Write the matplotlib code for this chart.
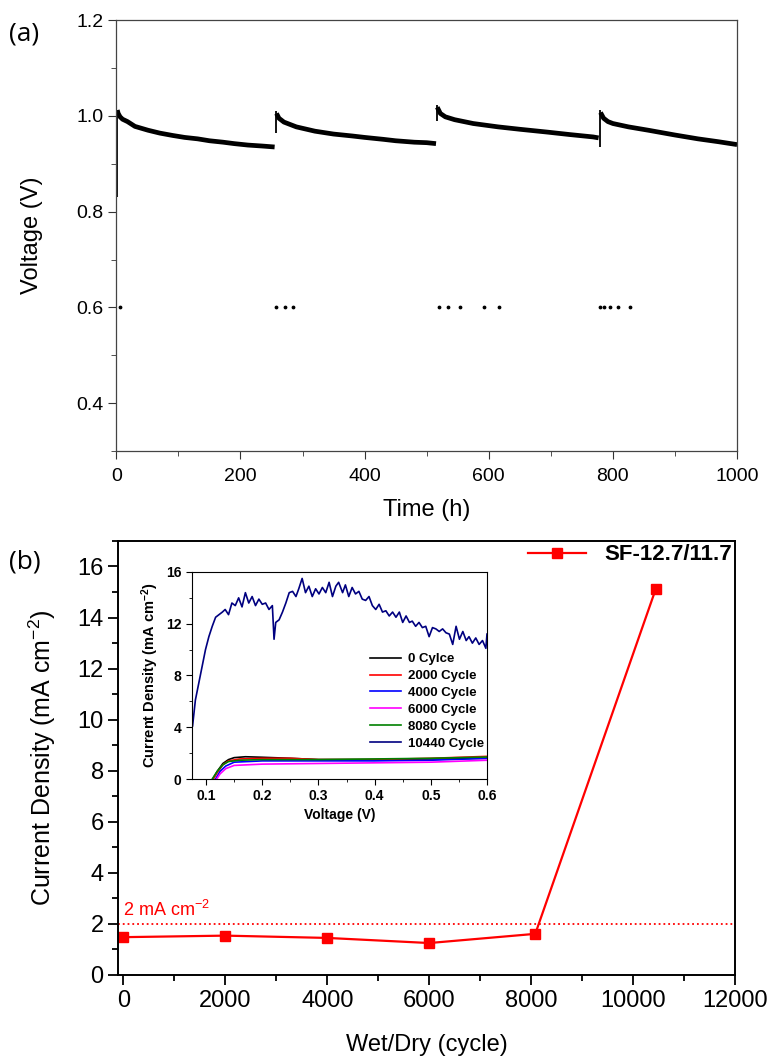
import matplotlib
matplotlib.use("Agg")
import matplotlib.pyplot as plt
from matplotlib.ticker import MultipleLocator

plt.rcParams["font.family"] = ["Liberation Sans", "DejaVu Sans"]
plt.rcParams["mathtext.fontset"] = "custom"
plt.rcParams["mathtext.rm"] = "Liberation Sans"
plt.rcParams["mathtext.bf"] = "Liberation Sans:bold"
plt.rcParams["mathtext.default"] = "regular"

# ======== (a) voltage vs time ========
# jumps at the start of each run (thin vertical streaks)
jump_t = [1.5, 257, 516, 779]
jump_lo = [0.83, 0.965, 0.99, 0.935]
jump_hi = [1.012, 1.01, 1.022, 1.012]
# decay of each run
seg1_t = [1.5, 3, 6, 10, 18, 30, 51, 70, 91, 110, 131, 150, 172, 190, 212, 235, 255]
seg1_v = [1.012, 1.005, 0.998, 0.993, 0.988, 0.978, 0.970, 0.964, 0.959, 0.955, 0.952, 0.948, 0.945, 0.942, 0.939, 0.937, 0.935]
seg2_t = [258, 262, 270, 290, 320, 350, 380, 400, 430, 450, 480, 500, 515]
seg2_v = [1.005, 0.995, 0.987, 0.977, 0.968, 0.962, 0.958, 0.955, 0.951, 0.948, 0.945, 0.944, 0.942]
seg3_t = [517, 522, 530, 545, 575, 615, 650, 695, 730, 768, 777]
seg3_v = [1.018, 1.005, 0.998, 0.992, 0.984, 0.977, 0.972, 0.966, 0.961, 0.956, 0.954]
seg4_t = [780, 785, 792, 800, 825, 857, 900, 937, 970, 1000]
seg4_v = [1.007, 0.995, 0.988, 0.984, 0.977, 0.970, 0.960, 0.952, 0.946, 0.940]
drop_t = [6, 258, 272, 284, 520, 534, 554, 592, 617, 780, 786, 796, 808, 828]
drop_v = [0.6] * len(drop_t)

# ======== (b) current density vs wet/dry cycle ========
cycles = [0, 2000, 4000, 6000, 8080, 10440]
current = [1.48, 1.54, 1.45, 1.25, 1.61, 15.1]
limit = 2.0

# ======== inset: J-V curves ========
jv_v = {
    "0 Cylce": [0.112, 0.12, 0.13, 0.14, 0.15, 0.17, 0.2, 0.25, 0.3, 0.4, 0.5, 0.6],
    "2000 Cycle": [0.113, 0.12, 0.13, 0.14, 0.16, 0.2, 0.25, 0.3, 0.4, 0.5, 0.6],
    "4000 Cycle": [0.117, 0.125, 0.135, 0.15, 0.2, 0.3, 0.4, 0.5, 0.6],
    "6000 Cycle": [0.119, 0.125, 0.135, 0.15, 0.2, 0.3, 0.4, 0.5, 0.6],
    "8080 Cycle": [0.111, 0.12, 0.13, 0.14, 0.16, 0.2, 0.3, 0.4, 0.5, 0.6],
}
jv_j = {
    "0 Cylce": [0, 0.6, 1.2, 1.5, 1.65, 1.72, 1.68, 1.6, 1.5, 1.5, 1.55, 1.6],
    "2000 Cycle": [0, 0.5, 1.1, 1.4, 1.55, 1.6, 1.6, 1.5, 1.5, 1.6, 1.75],
    "4000 Cycle": [0, 0.6, 1.0, 1.3, 1.4, 1.4, 1.4, 1.45, 1.6],
    "6000 Cycle": [0, 0.4, 0.8, 1.05, 1.15, 1.2, 1.25, 1.3, 1.45],
    "8080 Cycle": [0, 0.6, 1.1, 1.35, 1.45, 1.5, 1.5, 1.55, 1.6, 1.7],
}
jv_colors = {
    "0 Cylce": "black",
    "2000 Cycle": "red",
    "4000 Cycle": "blue",
    "6000 Cycle": "magenta",
    "8080 Cycle": "green",
    "10440 Cycle": "navy",
}
v10440 = [0.076, 0.081, 0.087, 0.093, 0.099, 0.105, 0.111, 0.117, 0.129, 0.134, 0.14,
          0.146, 0.152, 0.158, 0.164, 0.17, 0.176, 0.182, 0.188, 0.194, 0.2, 0.206,
          0.212, 0.218, 0.221, 0.224, 0.23, 0.236, 0.242, 0.248, 0.254, 0.26, 0.265,
          0.271, 0.277, 0.283, 0.289, 0.295, 0.301, 0.307, 0.313, 0.319, 0.325, 0.331,
          0.336, 0.343, 0.348, 0.354, 0.36, 0.366, 0.372, 0.378, 0.384, 0.39, 0.396,
          0.402, 0.408, 0.414, 0.42, 0.426, 0.432, 0.438, 0.444, 0.45, 0.456, 0.462,
          0.467, 0.473, 0.479, 0.485, 0.491, 0.497, 0.503, 0.509, 0.515, 0.521, 0.527,
          0.533, 0.539, 0.545, 0.551, 0.557, 0.563, 0.568, 0.574, 0.58, 0.586, 0.592,
          0.598, 0.6]
j10440 = [4.1, 6.1, 7.4, 8.7, 10.0, 11.0, 11.8, 12.5, 12.9, 13.1, 12.7,
          13.6, 13.4, 14.0, 13.3, 14.4, 13.6, 14.1, 13.4, 13.9, 13.5, 13.6,
          13.1, 13.4, 10.8, 12.1, 12.3, 12.9, 13.6, 14.4, 14.5, 14.1, 14.7,
          15.5, 14.4, 14.9, 14.1, 14.7, 14.3, 14.8, 14.4, 15.2, 14.1, 14.9,
          15.2, 14.4, 15.0, 14.1, 14.8, 14.3, 14.5, 13.9, 13.8, 14.1, 13.4,
          13.1, 13.5, 12.9, 13.0, 12.6, 12.9, 12.5, 12.9, 12.1, 12.6, 12.1,
          12.2, 11.8, 12.1, 11.7, 11.8, 11.0, 11.7, 11.6, 11.4, 11.6, 11.3,
          11.2, 10.4, 11.8, 10.8, 11.4, 10.7, 11.0, 10.5, 10.9, 10.4, 10.7,
          10.1, 11.2]

fig = plt.figure(figsize=(7.73, 10.58), dpi=100)

# ---- panel (a) ----
ax1 = fig.add_axes([0.1505, 0.5737, 0.803, 0.4073])
ax1.vlines(jump_t, jump_lo, jump_hi, color="black", lw=1.3)
for t, v in [(seg1_t, seg1_v), (seg2_t, seg2_v), (seg3_t, seg3_v), (seg4_t, seg4_v)]:
    ax1.plot(t, v, color="black", lw=3.4, solid_capstyle="butt")
ax1.scatter(drop_t, drop_v, s=3, color="black", zorder=3)
ax1.set_xlim(0, 1000)
ax1.set_ylim(0.3, 1.2)
ax1.set_yticks([0.4, 0.6, 0.8, 1.0, 1.2])
ax1.yaxis.set_minor_locator(MultipleLocator(0.1))
ax1.xaxis.set_major_locator(MultipleLocator(200))
ax1.xaxis.set_minor_locator(MultipleLocator(100))
ax1.tick_params(which="both", direction="out", labelsize=14, color="#333333")
ax1.tick_params(which="major", length=6)
ax1.tick_params(which="minor", length=3.5)
ax1.tick_params(axis="x", pad=6)
for sp in ax1.spines.values():
    sp.set_color("#444444")
    sp.set_linewidth(0.9)
ax1.set_xlabel("Time (h)", fontsize=17, labelpad=10)
ax1.set_ylabel("Voltage (V)", fontsize=17, labelpad=24)
fig.text(0.012, 0.962, "(a)", fontsize=19, family=["Open Sans", "DejaVu Sans"])

# ---- panel (b) ----
ax2 = fig.add_axes([0.153, 0.0785, 0.798, 0.4102])
ax2.plot(cycles, current, color="red", lw=1.6, marker="s", markersize=7.5,
         label="SF-12.7/11.7")
ax2.axhline(limit, color="red", ls=":", lw=1.3)
ax2.text(0, 2.3, "2 mA cm$^{-2}$", color="red", fontsize=13)
ax2.set_xlim(-100, 12000)
ax2.set_ylim(0, 17)
ax2.xaxis.set_major_locator(MultipleLocator(2000))
ax2.xaxis.set_minor_locator(MultipleLocator(1000))
ax2.yaxis.set_major_locator(MultipleLocator(2))
ax2.yaxis.set_minor_locator(MultipleLocator(1))
ax2.tick_params(which="both", direction="out", labelsize=17, width=1.3)
ax2.tick_params(which="major", length=7)
ax2.tick_params(which="minor", length=4)
for sp in ax2.spines.values():
    sp.set_linewidth(1.4)
ax2.set_xlabel("Wet/Dry (cycle)", fontsize=17, labelpad=16)
ax2.set_ylabel("Current Density (mA cm$^{-2}$)", fontsize=18, labelpad=14)
ax2.legend(loc="upper right", frameon=False, handlelength=2.6, borderaxespad=0.05,
           borderpad=0.1, prop={"weight": "bold", "size": 16})
fig.text(0.012, 0.463, "(b)", fontsize=19, family=["Open Sans", "DejaVu Sans"])

# ---- inset ----
ins = fig.add_axes([0.2484, 0.2637, 0.3816, 0.1957])
for name in jv_v:
    ins.plot(jv_v[name], jv_j[name], color=jv_colors[name], lw=1.2, label=name)
ins.plot(v10440, j10440, color=jv_colors["10440 Cycle"], lw=1.2, label="10440 Cycle")
ins.set_xlim(0.075, 0.6)
ins.set_ylim(0, 16)
ins.xaxis.set_major_locator(MultipleLocator(0.1))
ins.xaxis.set_minor_locator(MultipleLocator(0.05))
ins.yaxis.set_major_locator(MultipleLocator(4))
ins.yaxis.set_minor_locator(MultipleLocator(2))
ins.tick_params(which="both", direction="out", labelsize=10)
ins.tick_params(which="major", length=4)
ins.tick_params(which="minor", length=2)
for lab in ins.get_xticklabels() + ins.get_yticklabels():
    lab.set_fontweight("bold")
ins.set_xlabel("Voltage (V)", fontsize=10, fontweight="bold", labelpad=3)
ins.set_ylabel("Current Density (mA cm$^{\\mathbf{-2}}$)", fontsize=10.5,
               fontweight="bold", labelpad=4)
ins.legend(loc="upper left", bbox_to_anchor=(0.58, 0.64), frameon=False,
           handlelength=2.4, labelspacing=0.35, borderpad=0, handletextpad=0.5,
           prop={"weight": "bold", "size": 9.5})

fig.savefig("out.png", dpi=100)
